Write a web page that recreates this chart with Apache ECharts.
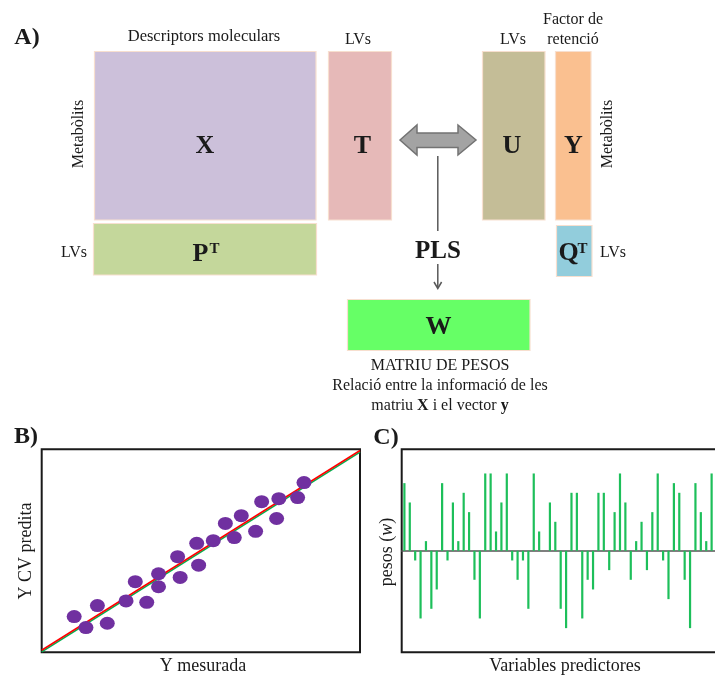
<!DOCTYPE html>
<html>
<head>
<meta charset="utf-8">
<script src="https://cdn.jsdelivr.net/npm/echarts@6/dist/echarts.min.js"></script>
<style>
  html, body { margin: 0; padding: 0; background: #fff; overflow: hidden; }
  #main { width: 740px; height: 675px; }
</style>
</head>
<body>
<div id="main"></div>
<script>
// B) Y mesurada vs Y CV predita (escala 0-100)
var yMesurada = [10.2, 13.9, 17.5, 20.6, 26.5, 29.4, 33.0, 36.7, 36.7, 43.5, 42.7, 49.3,
  48.7, 53.9, 57.7, 60.5, 62.7, 67.2, 69.1, 73.8, 74.5, 80.4, 82.4];
var yPredita = [17.6, 12.2, 23.0, 14.3, 25.3, 34.8, 24.6, 38.7, 32.3, 36.9, 47.1, 42.9,
  53.7, 55.0, 63.5, 56.5, 67.3, 59.6, 74.2, 65.9, 75.7, 76.2, 83.6];
var lineRed = [[0, 1.0], [100, 99.4]];
var lineGreen = [[0, 0.2], [100, 98.6]];

// C) pesos (w) de les variables predictores
var pesos = [7, 5, -1, -7, 1, -6, -4, 7, -1, 5, 1, 6, 4, -3, -7, 8, 8, 2, 5, 8,
  -1, -3, -1, -6, 8, 2, 0, 5, 3, -6, -8, 6, 6, -7, -3, -4, 6, 6, -2, 4,
  8, 5, -3, 1, 3, -2, 4, 8, -1, -5, 7, 6, -3, -8, 7, 4, 1, 8, -5];
var variables = pesos.map(function (v, i) { return "v" + (i + 1); });

var serif = "Liberation Serif, Times New Roman, serif";
var chart = echarts.init(document.getElementById("main"));

function box(x, y, w, h, fill) {
  return {
    type: "rect",
    shape: { x: x, y: y, width: w, height: h },
    style: { fill: fill, stroke: "#f7dfcf", lineWidth: 1.2 }
  };
}
function txt(x, y, s, size, bold, extra) {
  var o = {
    type: "text",
    x: x,
    y: y,
    style: {
      text: s,
      font: (bold ? "bold " : "") + size + "px " + serif,
      fill: "#1a1a1a",
      align: "center",
      verticalAlign: "middle"
    }
  };
  if (extra) Object.assign(o, extra);
  return o;
}

var graphics = [
  // A) diagrama
  txt(27, 38, "A)", 24, true),
  txt(204, 37, "Descriptors moleculars", 16.5, false),
  txt(358, 40, "LVs", 16, false),
  txt(513, 40, "LVs", 16, false),
  txt(573, 20, "Factor de", 16, false),
  txt(573, 40, "retenció", 16, false),
  box(94.5, 51.5, 221.5, 168.5, "#ccc0da"),
  box(93.5, 223.5, 223, 51.5, "#c4d79b"),
  box(328.5, 51.5, 63, 168.5, "#e6b9b8"),
  box(482.5, 51.5, 62.5, 168.5, "#c4bd97"),
  box(555.5, 51.5, 35.5, 168.5, "#fac090"),
  box(556.5, 225.5, 35.5, 51, "#92cddc"),
  box(347.5, 299.5, 182.5, 51, "#66ff66"),
  txt(205, 146, "X", 26, true),
  txt(362.5, 146, "T", 26, true),
  txt(512, 146, "U", 26, true),
  txt(573.5, 146, "Y", 26, true),
  txt(438.5, 327, "W", 26, true),
  txt(200.5, 254.5, "P", 26, true),
  txt(214.5, 249, "T", 15, true),
  txt(568.5, 253.5, "Q", 26, true),
  txt(582.5, 249, "T", 15, true),
  txt(438, 252, "PLS", 25, true),
  txt(74, 253, "LVs", 16, false),
  txt(613, 252.5, "LVs", 16, false),
  txt(79, 134, "Metabòlits", 16, false, { rotation: Math.PI / 2 }),
  txt(607.5, 134, "Metabòlits", 16, false, { rotation: Math.PI / 2 }),
  {
    type: "polygon",
    shape: {
      points: [[400, 140], [417, 125], [417, 133], [458, 133], [458, 125], [476, 140],
        [458, 155], [458, 147.5], [417, 147.5], [417, 155]]
    },
    style: { fill: "#a3a3a3", stroke: "#737373", lineWidth: 1.5 }
  },
  { type: "line", shape: { x1: 437.8, y1: 156, x2: 437.8, y2: 231 }, style: { stroke: "#595959", lineWidth: 1.5 } },
  { type: "line", shape: { x1: 437.8, y1: 264, x2: 437.8, y2: 288 }, style: { stroke: "#595959", lineWidth: 1.5 } },
  { type: "polyline", shape: { points: [[434, 282], [437.8, 288.5], [441.6, 282]] }, style: { stroke: "#595959", lineWidth: 1.5, fill: null } },
  txt(440, 366, "MATRIU DE PESOS", 16, false),
  txt(440, 386, "Relació entre la informació de les", 16, false),
  {
    type: "text",
    x: 440,
    y: 406,
    style: {
      text: "{n|matriu }{b|X}{n| i el vector }{b|y}",
      align: "center",
      verticalAlign: "middle",
      fill: "#1a1a1a",
      rich: {
        n: { font: "16px " + serif, fill: "#1a1a1a" },
        b: { font: "bold 16px " + serif, fill: "#1a1a1a" }
      }
    }
  },
  // B) i C) etiquetes
  txt(26, 437, "B)", 24, true),
  txt(386, 438, "C)", 24, true),
  txt(26, 551, "Y CV predita", 18, false, { rotation: Math.PI / 2 }),
  txt(203, 666, "Y mesurada", 18, false),
  {
    type: "text",
    x: 387.5,
    y: 552,
    rotation: Math.PI / 2,
    style: {
      text: "{n|pesos (}{i|w}{n|)}",
      align: "center",
      verticalAlign: "middle",
      fill: "#1a1a1a",
      rich: {
        n: { font: "18px " + serif, fill: "#1a1a1a" },
        i: { font: "italic 18px " + serif, fill: "#1a1a1a" }
      }
    }
  },
  txt(565, 666, "Variables predictores", 18, false)
];

var option = {
  animation: false,
  backgroundColor: "#fff",
  grid: [
    { left: 41.7, top: 449.3, width: 318.3, height: 203, show: true, borderColor: "#1a1a1a", borderWidth: 2, backgroundColor: "transparent" },
    { left: 401.7, top: 449.3, width: 318, height: 203, show: true, borderColor: "#1a1a1a", borderWidth: 2, backgroundColor: "transparent" }
  ],
  xAxis: [
    { gridIndex: 0, type: "value", min: 0, max: 100, show: false },
    {
      gridIndex: 1,
      type: "category",
      data: variables,
      boundaryGap: true,
      axisLine: { show: true, onZero: true, lineStyle: { color: "#555", width: 1.5 } },
      axisTick: { show: false },
      axisLabel: { show: false },
      splitLine: { show: false }
    }
  ],
  yAxis: [
    { gridIndex: 0, type: "value", min: 0, max: 100, show: false },
    { gridIndex: 1, type: "value", min: -10.5, max: 10.5, axisLine: { show: false }, axisLabel: { show: false }, axisTick: { show: false }, splitLine: { show: false } }
  ],
  series: [
    {
      type: "line",
      xAxisIndex: 0, yAxisIndex: 0,
      data: lineGreen,
      symbol: "none",
      lineStyle: { color: "#00b050", width: 1.6 },
      z: 2
    },
    {
      type: "line",
      xAxisIndex: 0, yAxisIndex: 0,
      data: lineRed,
      symbol: "none",
      lineStyle: { color: "#ff0000", width: 1.6 },
      z: 2
    },
    {
      type: "scatter",
      xAxisIndex: 0, yAxisIndex: 0,
      data: yMesurada.map(function (x, i) { return [x, yPredita[i]]; }),
      symbol: "circle",
      symbolSize: [15, 13],
      itemStyle: { color: "#7030a0", opacity: 1 },
      z: 3
    },
    {
      type: "bar",
      xAxisIndex: 1, yAxisIndex: 1,
      data: pesos,
      barWidth: 2.2,
      itemStyle: { color: "#1dbf5a" },
      z: 3
    }
  ],
  graphic: graphics
};

chart.setOption(option);
</script>
</body>
</html>
